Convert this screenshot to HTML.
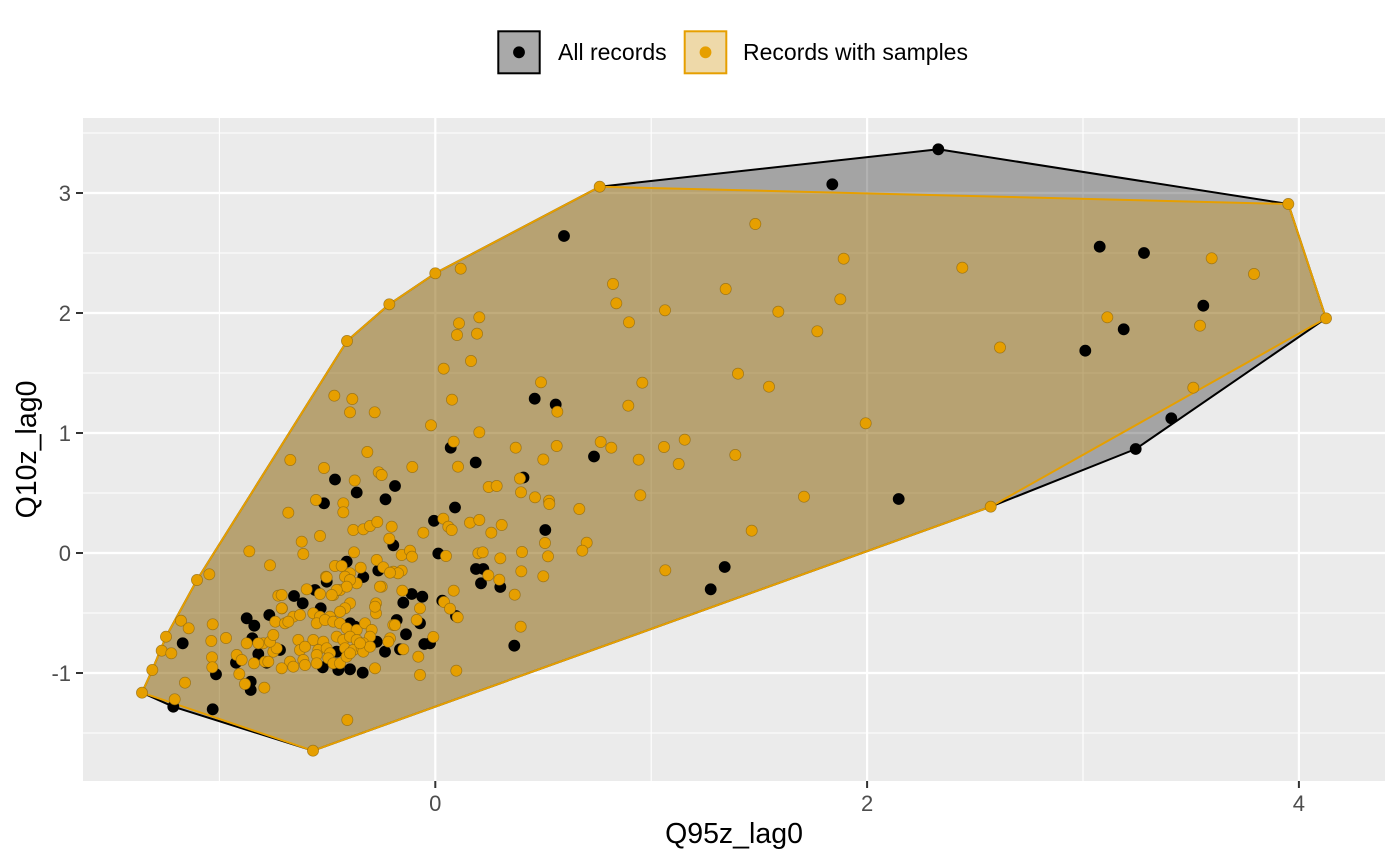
<!DOCTYPE html>
<html><head><meta charset="utf-8"><style>
html,body{margin:0;padding:0;background:#fff;}
svg{display:block;}
text{font-family:"Liberation Sans",Arial,sans-serif;}
.b circle{fill:#000;}
.o circle{fill:#E69F00;stroke:#8a6510;stroke-width:0.7;stroke-opacity:0.7;}
</style></head><body>
<svg width="1400" height="865" viewBox="0 0 1400 865" xmlns="http://www.w3.org/2000/svg">
<rect x="0" y="0" width="1400" height="865" fill="#fff"/>
<!-- legend -->
<rect x="498.3" y="31.3" width="41.4" height="42" fill="#A9A9A9" stroke="#000" stroke-width="2"/>
<circle cx="519" cy="52.3" r="5.9" fill="#000"/>
<text x="558" y="60" font-size="23" fill="#000">All records</text>
<rect x="684.7" y="31.3" width="41.6" height="42" fill="#EED9A9" stroke="#E69F00" stroke-width="2"/>
<circle cx="705.5" cy="52.3" r="5.9" fill="#E69F00"/>
<text x="743" y="60" font-size="23" fill="#000">Records with samples</text>
<!-- panel -->
<rect x="83" y="118" width="1302" height="663" fill="#EBEBEB"/>
<g stroke="#fff" stroke-width="1.1">
<line x1="83" x2="1385" y1="733" y2="733"/><line x1="83" x2="1385" y1="613" y2="613"/>
<line x1="83" x2="1385" y1="493" y2="493"/><line x1="83" x2="1385" y1="373" y2="373"/>
<line x1="83" x2="1385" y1="253" y2="253"/><line x1="83" x2="1385" y1="133" y2="133"/>
<line y1="118" y2="781" x1="219.4" x2="219.4"/><line y1="118" y2="781" x1="651.2" x2="651.2"/>
<line y1="118" y2="781" x1="1083" x2="1083"/>
</g>
<g stroke="#fff" stroke-width="2.2">
<line x1="83" x2="1385" y1="673" y2="673"/><line x1="83" x2="1385" y1="553" y2="553"/>
<line x1="83" x2="1385" y1="433" y2="433"/><line x1="83" x2="1385" y1="313" y2="313"/>
<line x1="83" x2="1385" y1="193" y2="193"/>
<line y1="118" y2="781" x1="435.3" x2="435.3"/><line y1="118" y2="781" x1="867.1" x2="867.1"/>
<line y1="118" y2="781" x1="1298.9" x2="1298.9"/>
</g>
<!-- hulls -->
<polygon points="142,692.7 173.3,706.7 313,750.7 990.7,506.7 1135.7,449 1326,318.3 1288.3,204 938.3,149.3 599.7,186.7 435.3,273.3 389.3,304.3 347,341 197,580 166,636.7 152.3,670" fill="#000" fill-opacity="0.3" stroke="#000" stroke-width="2" stroke-linejoin="round"/>
<polygon points="142,692.7 313,750.7 990.7,506.7 1326,318.3 1288.3,204 599.7,186.7 435.3,273.3 389.3,304.3 347,341 197,580 166,636.7 152.3,670" fill="#E69F00" fill-opacity="0.3" stroke="#E69F00" stroke-width="2" stroke-linejoin="round"/>
<!-- black points -->
<g class="b">
<circle cx="564" cy="236" r="5.9"/><circle cx="534.7" cy="398.7" r="5.9"/><circle cx="555.7" cy="404.5" r="5.9"/>
<circle cx="450.7" cy="447.7" r="5.9"/><circle cx="475.7" cy="462.5" r="5.9"/><circle cx="594" cy="456.5" r="5.9"/>
<circle cx="335" cy="479.5" r="5.9"/><circle cx="523.5" cy="477.5" r="5.9"/><circle cx="455" cy="507.5" r="5.9"/>
<circle cx="434" cy="520.8" r="5.9"/><circle cx="545.3" cy="530" r="5.9"/><circle cx="438.3" cy="553.5" r="5.9"/>
<circle cx="476" cy="569" r="5.9"/><circle cx="483.3" cy="569" r="5.9"/><circle cx="481" cy="583.3" r="5.9"/>
<circle cx="500.3" cy="587" r="5.9"/><circle cx="724.7" cy="567" r="5.9"/><circle cx="710.7" cy="589.3" r="5.9"/>
<circle cx="442.3" cy="600.7" r="5.9"/><circle cx="456" cy="616" r="5.9"/><circle cx="514.3" cy="645.7" r="5.9"/>
<circle cx="430" cy="643.3" r="5.9"/><circle cx="173.3" cy="706.7" r="5.9"/><circle cx="212.7" cy="709.3" r="5.9"/>
<circle cx="182.7" cy="643.3" r="5.9"/><circle cx="216" cy="674.3" r="5.9"/><circle cx="250.7" cy="681.7" r="5.9"/>
<circle cx="250.7" cy="690" r="5.9"/><circle cx="246.7" cy="618.3" r="5.9"/><circle cx="254.3" cy="625.7" r="5.9"/>
<circle cx="252.3" cy="638.3" r="5.9"/><circle cx="258.3" cy="654" r="5.9"/><circle cx="266.7" cy="662.7" r="5.9"/>
<circle cx="236" cy="662.7" r="5.9"/><circle cx="269.3" cy="615" r="5.9"/><circle cx="294" cy="596" r="5.9"/>
<circle cx="302.7" cy="603.3" r="5.9"/><circle cx="320.7" cy="608.3" r="5.9"/><circle cx="315" cy="590" r="5.9"/>
<circle cx="326.7" cy="581.7" r="5.9"/><circle cx="324" cy="503.3" r="5.9"/><circle cx="356.7" cy="492.5" r="5.9"/>
<circle cx="395" cy="486" r="5.9"/><circle cx="385.5" cy="499.3" r="5.9"/><circle cx="393.3" cy="545.3" r="5.9"/>
<circle cx="346.7" cy="561.7" r="5.9"/><circle cx="363.3" cy="577" r="5.9"/><circle cx="378.3" cy="570.5" r="5.9"/>
<circle cx="411.7" cy="594" r="5.9"/><circle cx="422.3" cy="596.7" r="5.9"/><circle cx="403.3" cy="602.7" r="5.9"/>
<circle cx="396.7" cy="620" r="5.9"/><circle cx="420" cy="623.3" r="5.9"/><circle cx="406" cy="634.3" r="5.9"/>
<circle cx="400" cy="649.3" r="5.9"/><circle cx="385" cy="651.7" r="5.9"/><circle cx="376.7" cy="641.7" r="5.9"/>
<circle cx="424.3" cy="644" r="5.9"/><circle cx="362.7" cy="672.7" r="5.9"/><circle cx="350" cy="669.3" r="5.9"/>
<circle cx="338.3" cy="670" r="5.9"/><circle cx="322.7" cy="667.3" r="5.9"/><circle cx="336.7" cy="651.7" r="5.9"/>
<circle cx="280" cy="650" r="5.9"/><circle cx="832.3" cy="184.3" r="5.9"/><circle cx="938.3" cy="149.3" r="5.9"/>
<circle cx="898.7" cy="499" r="5.9"/><circle cx="1099.7" cy="246.7" r="5.9"/><circle cx="1144" cy="253" r="5.9"/>
<circle cx="1203.3" cy="305.7" r="5.9"/><circle cx="1123.7" cy="329.3" r="5.9"/><circle cx="1085.3" cy="350.7" r="5.9"/>
<circle cx="1171.3" cy="418.3" r="5.9"/><circle cx="1135.7" cy="449" r="5.9"/><circle cx="350" cy="623.3" r="5.9"/>
<circle cx="355" cy="626.7" r="5.9"/>
</g>
<!-- orange points -->
<g class="o">
<circle cx="142" cy="692.7" r="5.6"/><circle cx="152.3" cy="670" r="5.6"/><circle cx="166" cy="636.7" r="5.6"/>
<circle cx="197" cy="580" r="5.6"/><circle cx="347" cy="341" r="5.6"/><circle cx="389.3" cy="304.3" r="5.6"/>
<circle cx="435.3" cy="273.3" r="5.6"/><circle cx="599.7" cy="186.7" r="5.6"/><circle cx="1288.3" cy="204" r="5.6"/>
<circle cx="1326" cy="318.3" r="5.6"/><circle cx="990.7" cy="506.7" r="5.6"/><circle cx="313" cy="750.7" r="5.6"/>
<circle cx="460.7" cy="268.7" r="5.6"/><circle cx="613" cy="284" r="5.6"/><circle cx="616.3" cy="303.3" r="5.6"/>
<circle cx="629" cy="322.3" r="5.6"/><circle cx="459" cy="323.3" r="5.6"/><circle cx="479.3" cy="317.3" r="5.6"/>
<circle cx="457" cy="335" r="5.6"/><circle cx="477" cy="333.7" r="5.6"/><circle cx="471" cy="361" r="5.6"/>
<circle cx="443.7" cy="368.7" r="5.6"/><circle cx="541" cy="382.3" r="5.6"/><circle cx="452" cy="399.7" r="5.6"/>
<circle cx="557.3" cy="411.7" r="5.6"/><circle cx="628.3" cy="405.7" r="5.6"/><circle cx="334.3" cy="395.7" r="5.6"/>
<circle cx="352.3" cy="399" r="5.6"/><circle cx="350" cy="412.3" r="5.6"/><circle cx="374.7" cy="412.3" r="5.6"/>
<circle cx="431" cy="425.3" r="5.6"/><circle cx="479.3" cy="432.3" r="5.6"/><circle cx="453.7" cy="441.7" r="5.6"/>
<circle cx="515.7" cy="447.7" r="5.6"/><circle cx="556.7" cy="446" r="5.6"/><circle cx="600.7" cy="442" r="5.6"/>
<circle cx="611.3" cy="447.7" r="5.6"/><circle cx="543.3" cy="459.5" r="5.6"/><circle cx="458" cy="466.7" r="5.6"/>
<circle cx="290.3" cy="460" r="5.6"/><circle cx="324" cy="468" r="5.6"/><circle cx="367.3" cy="452" r="5.6"/>
<circle cx="378.7" cy="472.3" r="5.6"/><circle cx="381.7" cy="475" r="5.6"/><circle cx="412.3" cy="467" r="5.6"/>
<circle cx="354.7" cy="480.5" r="5.6"/><circle cx="520" cy="478.5" r="5.6"/>
<circle cx="642.3" cy="382.7" r="5.6"/><circle cx="769" cy="386.7" r="5.6"/><circle cx="664" cy="447" r="5.6"/>
<circle cx="684.7" cy="439.7" r="5.6"/><circle cx="735.3" cy="455" r="5.6"/><circle cx="638.7" cy="459.7" r="5.6"/>
<circle cx="678.7" cy="464" r="5.6"/><circle cx="488.7" cy="487" r="5.6"/><circle cx="496.7" cy="486" r="5.6"/>
<circle cx="521" cy="492.3" r="5.6"/><circle cx="535" cy="497.3" r="5.6"/><circle cx="549" cy="500.7" r="5.6"/>
<circle cx="549.3" cy="504" r="5.6"/><circle cx="579.3" cy="509" r="5.6"/><circle cx="640.3" cy="495.3" r="5.6"/>
<circle cx="443.3" cy="518.7" r="5.6"/><circle cx="448.3" cy="526.7" r="5.6"/><circle cx="451.7" cy="530" r="5.6"/>
<circle cx="470" cy="522.7" r="5.6"/><circle cx="479.3" cy="520" r="5.6"/><circle cx="501.7" cy="525" r="5.6"/>
<circle cx="491.3" cy="532.7" r="5.6"/><circle cx="545" cy="543" r="5.6"/><circle cx="586.7" cy="542.7" r="5.6"/>
<circle cx="582.3" cy="550.7" r="5.6"/><circle cx="751.7" cy="530.7" r="5.6"/><circle cx="446" cy="556" r="5.6"/>
<circle cx="478.3" cy="553.3" r="5.6"/><circle cx="482.7" cy="552.3" r="5.6"/><circle cx="522" cy="552" r="5.6"/>
<circle cx="548" cy="556.3" r="5.6"/><circle cx="500.3" cy="558.3" r="5.6"/><circle cx="488.3" cy="575.3" r="5.6"/>
<circle cx="499.3" cy="579.7" r="5.6"/><circle cx="521.3" cy="571.3" r="5.6"/><circle cx="543.3" cy="576.3" r="5.6"/>
<circle cx="665.3" cy="570.3" r="5.6"/><circle cx="453.7" cy="590.7" r="5.6"/><circle cx="514.7" cy="594.7" r="5.6"/>
<circle cx="444" cy="602" r="5.6"/><circle cx="450" cy="608.7" r="5.6"/><circle cx="457.7" cy="617.3" r="5.6"/>
<circle cx="520.7" cy="626.7" r="5.6"/><circle cx="433.3" cy="637" r="5.6"/><circle cx="456.3" cy="670.7" r="5.6"/>
<circle cx="755.3" cy="224" r="5.6"/><circle cx="843.7" cy="258.7" r="5.6"/><circle cx="962.3" cy="267.7" r="5.6"/>
<circle cx="665" cy="310.3" r="5.6"/><circle cx="725.7" cy="289" r="5.6"/><circle cx="778.3" cy="311.7" r="5.6"/>
<circle cx="840.3" cy="299.3" r="5.6"/><circle cx="817.3" cy="331.3" r="5.6"/><circle cx="1000" cy="347.5" r="5.6"/>
<circle cx="738" cy="373.7" r="5.6"/><circle cx="865.7" cy="423.3" r="5.6"/><circle cx="804" cy="496.7" r="5.6"/>
<circle cx="1211.7" cy="258.3" r="5.6"/><circle cx="1254" cy="274" r="5.6"/><circle cx="1107.3" cy="317.3" r="5.6"/>
<circle cx="1200" cy="325.7" r="5.6"/><circle cx="1193.3" cy="387.7" r="5.6"/>
<circle cx="161.7" cy="650.7" r="5.6"/><circle cx="171.3" cy="653.3" r="5.6"/><circle cx="181" cy="620.7" r="5.6"/>
<circle cx="188.7" cy="628.3" r="5.6"/><circle cx="209.3" cy="574.3" r="5.6"/><circle cx="174.7" cy="699.3" r="5.6"/>
<circle cx="185" cy="682.7" r="5.6"/><circle cx="212.7" cy="624.3" r="5.6"/><circle cx="211.3" cy="641" r="5.6"/>
<circle cx="212" cy="657.3" r="5.6"/><circle cx="212.3" cy="667.3" r="5.6"/><circle cx="226" cy="638" r="5.6"/>
<circle cx="249.3" cy="551.3" r="5.6"/><circle cx="270" cy="565.3" r="5.6"/><circle cx="288.3" cy="512.7" r="5.6"/>
<circle cx="316" cy="500" r="5.6"/><circle cx="343.3" cy="503.3" r="5.6"/><circle cx="343.3" cy="512.3" r="5.6"/>
<circle cx="320" cy="536" r="5.6"/><circle cx="301.7" cy="541.7" r="5.6"/><circle cx="303.3" cy="554" r="5.6"/>
<circle cx="353.3" cy="530" r="5.6"/><circle cx="363.3" cy="529.3" r="5.6"/><circle cx="370" cy="526" r="5.6"/>
<circle cx="377.3" cy="522" r="5.6"/><circle cx="391.7" cy="526.7" r="5.6"/><circle cx="389.3" cy="538.7" r="5.6"/>
<circle cx="354" cy="552.3" r="5.6"/><circle cx="376.7" cy="560" r="5.6"/><circle cx="383.3" cy="567.3" r="5.6"/>
<circle cx="393.3" cy="571.7" r="5.6"/><circle cx="401.7" cy="570.7" r="5.6"/><circle cx="401.7" cy="555" r="5.6"/>
<circle cx="410" cy="550.7" r="5.6"/><circle cx="412" cy="556.7" r="5.6"/><circle cx="423.3" cy="532.7" r="5.6"/>
<circle cx="335" cy="566" r="5.6"/><circle cx="341.7" cy="566" r="5.6"/><circle cx="350" cy="573.3" r="5.6"/>
<circle cx="360.7" cy="567.7" r="5.6"/><circle cx="326" cy="576.7" r="5.6"/>
<circle cx="236.7" cy="655" r="5.6"/><circle cx="241.7" cy="660" r="5.6"/><circle cx="254" cy="663.3" r="5.6"/>
<circle cx="265" cy="661.7" r="5.6"/><circle cx="268.3" cy="661.7" r="5.6"/><circle cx="273.3" cy="651.7" r="5.6"/>
<circle cx="276.7" cy="648.3" r="5.6"/><circle cx="263.3" cy="643.3" r="5.6"/><circle cx="270" cy="641.7" r="5.6"/>
<circle cx="273.3" cy="635" r="5.6"/><circle cx="258.3" cy="643.3" r="5.6"/><circle cx="246.7" cy="643.3" r="5.6"/>
<circle cx="239.3" cy="674" r="5.6"/><circle cx="245" cy="684" r="5.6"/><circle cx="264.3" cy="687.7" r="5.6"/>
<circle cx="347.3" cy="720" r="5.6"/><circle cx="278.3" cy="595.7" r="5.6"/><circle cx="282" cy="608.3" r="5.6"/>
<circle cx="275.3" cy="621.7" r="5.6"/><circle cx="285" cy="623.3" r="5.6"/>
<circle cx="326.7" cy="577.3" r="5.6"/><circle cx="345" cy="576.7" r="5.6"/><circle cx="356.7" cy="583.3" r="5.6"/>
<circle cx="350" cy="580" r="5.6"/><circle cx="306.7" cy="589.3" r="5.6"/><circle cx="320" cy="594" r="5.6"/>
<circle cx="333.3" cy="595" r="5.6"/><circle cx="340" cy="590" r="5.6"/><circle cx="346.7" cy="586.7" r="5.6"/>
<circle cx="381.7" cy="586.7" r="5.6"/><circle cx="402.3" cy="590.7" r="5.6"/><circle cx="398" cy="573.3" r="5.6"/>
<circle cx="390" cy="572.7" r="5.6"/><circle cx="281.7" cy="595" r="5.6"/><circle cx="281.7" cy="608.3" r="5.6"/>
<circle cx="350" cy="603.3" r="5.6"/><circle cx="345" cy="608.3" r="5.6"/><circle cx="340" cy="611.7" r="5.6"/>
<circle cx="376" cy="603.3" r="5.6"/><circle cx="376" cy="613.3" r="5.6"/><circle cx="420" cy="608.3" r="5.6"/>
<circle cx="416.7" cy="620" r="5.6"/><circle cx="293.3" cy="616.7" r="5.6"/><circle cx="300" cy="615" r="5.6"/>
<circle cx="288.3" cy="621.7" r="5.6"/><circle cx="313.3" cy="613.3" r="5.6"/><circle cx="320" cy="616.7" r="5.6"/>
<circle cx="330" cy="616.7" r="5.6"/><circle cx="316.7" cy="623.3" r="5.6"/><circle cx="325" cy="620" r="5.6"/>
<circle cx="333.3" cy="621.7" r="5.6"/><circle cx="340" cy="623.3" r="5.6"/><circle cx="346.7" cy="628.3" r="5.6"/>
<circle cx="356.7" cy="630" r="5.6"/><circle cx="365" cy="623.3" r="5.6"/><circle cx="371.7" cy="630" r="5.6"/>
<circle cx="370" cy="636.7" r="5.6"/><circle cx="393.3" cy="625" r="5.6"/><circle cx="390" cy="638.3" r="5.6"/>
<circle cx="388.3" cy="641.7" r="5.6"/><circle cx="298.3" cy="640" r="5.6"/><circle cx="313.3" cy="640" r="5.6"/>
<circle cx="323.3" cy="641.7" r="5.6"/><circle cx="336.7" cy="636.7" r="5.6"/><circle cx="343.3" cy="640" r="5.6"/>
<circle cx="350" cy="636.7" r="5.6"/><circle cx="356.7" cy="640" r="5.6"/><circle cx="363.3" cy="643.3" r="5.6"/>
<circle cx="300" cy="650" r="5.6"/><circle cx="305" cy="646.7" r="5.6"/><circle cx="318.3" cy="650" r="5.6"/>
<circle cx="326.7" cy="648.3" r="5.6"/><circle cx="330" cy="653.3" r="5.6"/><circle cx="345" cy="648.3" r="5.6"/>
<circle cx="353.3" cy="650" r="5.6"/><circle cx="361.7" cy="648.3" r="5.6"/><circle cx="403.3" cy="649.3" r="5.6"/>
<circle cx="418.3" cy="656.7" r="5.6"/><circle cx="290" cy="661.7" r="5.6"/><circle cx="293.3" cy="666.7" r="5.6"/>
<circle cx="303.3" cy="660" r="5.6"/><circle cx="305" cy="665" r="5.6"/><circle cx="316.7" cy="655" r="5.6"/>
<circle cx="316.7" cy="663.3" r="5.6"/><circle cx="328.3" cy="658.3" r="5.6"/><circle cx="333.3" cy="663.3" r="5.6"/>
<circle cx="340" cy="663.3" r="5.6"/><circle cx="346.7" cy="656.7" r="5.6"/><circle cx="350" cy="653.3" r="5.6"/>
<circle cx="281.7" cy="668.3" r="5.6"/><circle cx="375" cy="668.3" r="5.6"/><circle cx="420" cy="675" r="5.6"/>
<circle cx="363.3" cy="651.7" r="5.6"/><circle cx="370" cy="646.7" r="5.6"/><circle cx="360" cy="643.3" r="5.6"/>
<circle cx="336.7" cy="590" r="5.6"/><circle cx="331.7" cy="595" r="5.6"/><circle cx="375" cy="606.7" r="5.6"/>
<circle cx="380" cy="586.7" r="5.6"/><circle cx="395" cy="625" r="5.6"/>
</g>
<!-- axes ticks -->
<g stroke="#333" stroke-width="2">
<line x1="435.3" x2="435.3" y1="781" y2="788"/><line x1="867.1" x2="867.1" y1="781" y2="788"/><line x1="1298.9" x2="1298.9" y1="781" y2="788"/>
<line x1="76" x2="83" y1="673" y2="673"/><line x1="76" x2="83" y1="553" y2="553"/><line x1="76" x2="83" y1="433" y2="433"/>
<line x1="76" x2="83" y1="313" y2="313"/><line x1="76" x2="83" y1="193" y2="193"/>
</g>
<g font-size="22" fill="#4D4D4D" text-anchor="middle">
<text x="435.3" y="811">0</text><text x="867.1" y="811">2</text><text x="1298.9" y="811">4</text>
</g>
<g font-size="22" fill="#4D4D4D" text-anchor="end">
<text x="71" y="681">-1</text><text x="71" y="561">0</text><text x="71" y="441">1</text>
<text x="71" y="321">2</text><text x="71" y="201">3</text>
</g>
<text x="734" y="843" font-size="28.5" fill="#000" text-anchor="middle">Q95z_lag0</text>
<text transform="translate(36,449.5) rotate(-90)" font-size="28.5" fill="#000" text-anchor="middle">Q10z_lag0</text>
</svg>
</body></html>
